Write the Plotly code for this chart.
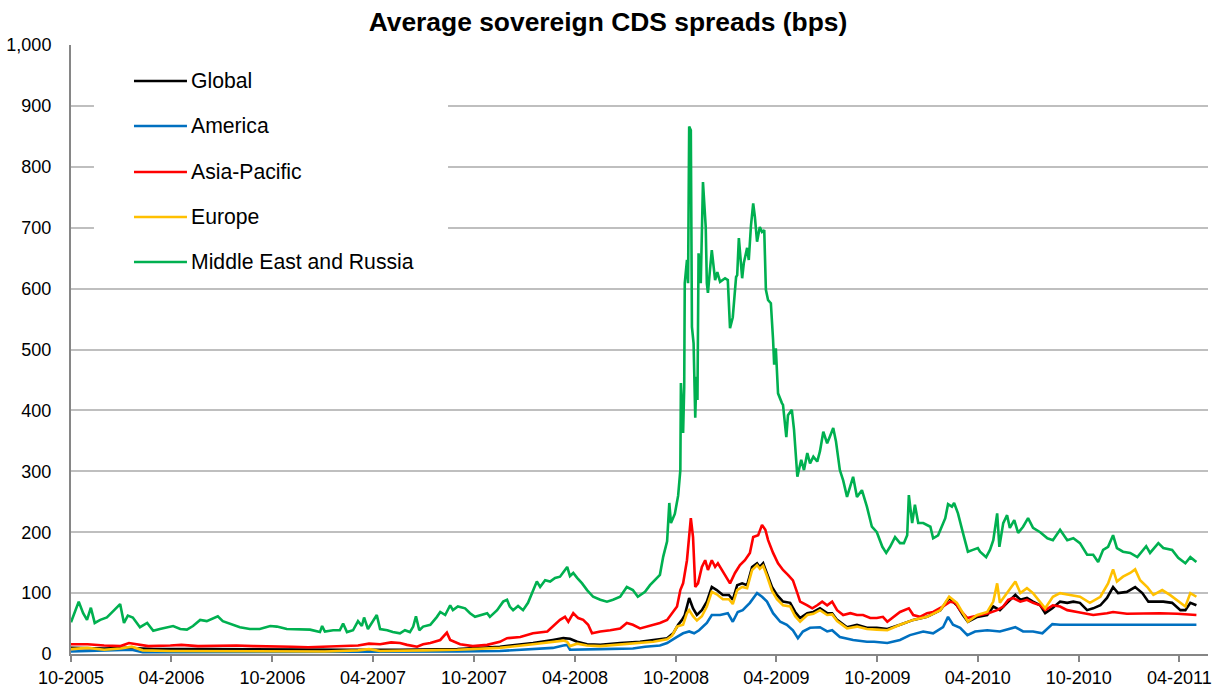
import pandas as pd
import plotly.graph_objects as go

# Observation dates are stored as days elapsed since 1 Oct 2005
START = pd.Timestamp("2005-10-01")

global_days = [0, 60, 100, 150, 250, 365, 500, 596, 700, 777, 837, 873, 892, 904, 917, 935, 959, 995, 1031,
               1055, 1080, 1091, 1100, 1107, 1112, 1120, 1127, 1134, 1143, 1152, 1161, 1170, 1181, 1192, 1199,
               1207, 1216, 1225, 1234, 1243, 1248, 1254, 1261, 1270, 1279, 1290, 1303, 1312, 1321, 1334, 1345,
               1357, 1370, 1379, 1388, 1406, 1424, 1442, 1460, 1479, 1502, 1526, 1551, 1575, 1591, 1605, 1616,
               1625, 1642, 1660, 1671, 1683, 1696, 1711, 1720, 1732, 1743, 1756, 1765, 1778, 1792, 1805, 1816,
               1828, 1841, 1852, 1865, 1877, 1888, 1897, 1913, 1928, 1941, 1952, 1968, 1979, 1995, 2010, 2019,
               2028, 2039]
global_vals = [10, 9, 10, 8, 8, 7, 7, 7, 8, 12, 18, 23, 26, 25, 20, 16, 15, 18, 20,
               23, 26, 34, 48, 56, 64, 92, 75, 64, 72, 86, 110, 105, 97, 97, 89,
               113, 116, 113, 143, 149, 143, 149, 133, 110, 97, 86, 84, 69, 59, 67, 69,
               75, 67, 67, 56, 44, 48, 43, 43, 41, 48, 56, 61, 72, 92, 80, 64,
               53, 61, 64, 78, 72, 84, 97, 89, 92, 86, 80, 67, 75, 86, 84, 86,
               84, 72, 75, 80, 92, 110, 100, 102, 110, 100, 86, 86, 86, 84, 72, 72,
               84, 80]

america_days = [0, 60, 110, 130, 200, 400, 520, 600, 700, 777, 837, 873, 892, 899, 904, 935, 959, 1018, 1040,
                1067, 1080, 1098, 1109, 1120, 1129, 1138, 1152, 1161, 1176, 1190, 1199, 1208, 1217, 1230, 1243,
                1252, 1261, 1272, 1285, 1297, 1308, 1317, 1326, 1339, 1357, 1370, 1379, 1393, 1417, 1442, 1455,
                1479, 1502, 1520, 1544, 1562, 1580, 1589, 1598, 1611, 1624, 1638, 1660, 1683, 1711, 1725, 1743,
                1760, 1778, 1792, 1823, 1900, 2039]
america_vals = [4, 5, 7, 3, 3, 3, 4, 4, 4, 5, 8, 10, 14, 15, 7, 7, 8, 9, 12,
                14, 18, 28, 34, 37, 34, 39, 51, 64, 64, 67, 53, 69, 72, 84, 100,
                94, 86, 67, 53, 48, 39, 26, 37, 43, 44, 37, 39, 28, 23, 20, 20,
                18, 23, 31, 37, 34, 44, 61, 48, 43, 31, 37, 39, 37, 44, 37, 37,
                34, 49, 48, 48, 48, 48]

asia_days = [0, 30, 60, 90, 105, 140, 180, 200, 230, 270, 300, 330, 365, 400, 430, 460, 490, 520, 540, 560,
             580, 596, 609, 627, 638, 651, 669, 681, 687, 705, 728, 754, 777, 790, 814, 837, 863, 886, 895,
             901, 910, 919, 928, 937, 944, 959, 977, 995, 1007, 1018, 1031, 1044, 1055, 1067, 1080, 1089,
             1098, 1104, 1109, 1116, 1120, 1123, 1127, 1131, 1136, 1143, 1149, 1154, 1161, 1167, 1172, 1181,
             1194, 1203, 1212, 1221, 1230, 1236, 1245, 1252, 1258, 1263, 1272, 1281, 1290, 1299, 1308, 1316,
             1321, 1334, 1343, 1352, 1361, 1370, 1379, 1388, 1399, 1412, 1424, 1435, 1448, 1460, 1471, 1479,
             1490, 1502, 1518, 1526, 1538, 1551, 1562, 1580, 1593, 1602, 1611, 1624, 1633, 1647, 1662, 1678,
             1689, 1698, 1707, 1720, 1732, 1743, 1756, 1765, 1779, 1792, 1805, 1823, 1852, 1877, 1888, 1913,
             1943, 1973, 2004, 2039]
asia_vals = [16, 16, 14, 13, 18, 13, 14, 15, 13, 14, 14, 13, 13, 12, 11, 12, 13, 14, 17, 16,
             19, 18, 15, 12, 16, 18, 23, 35, 23, 16, 13, 15, 20, 26, 28, 34, 37, 56, 61,
             53, 67, 59, 56, 48, 34, 37, 39, 42, 51, 48, 42, 45, 48, 51, 56, 67,
             78, 105, 116, 154, 199, 223, 192, 110, 116, 143, 154, 138, 154, 143, 149, 135,
             116, 133, 146, 154, 166, 192, 195, 212, 204, 187, 166, 149, 138, 130, 121, 100,
             86, 80, 75, 80, 86, 80, 86, 72, 64, 67, 64, 64, 59, 59, 61, 53,
             61, 69, 75, 64, 61, 67, 69, 78, 86, 84, 72, 59, 61, 64, 67, 72,
             78, 89, 92, 86, 89, 84, 80, 72, 80, 78, 72, 69, 64, 67, 69, 66,
             67, 67, 66, 64]

europe_days = [0, 30, 60, 90, 110, 130, 180, 300, 365, 460, 520, 540, 560, 600, 640, 700, 777, 837, 873, 892,
               899, 904, 917, 935, 959, 995, 1018, 1055, 1080, 1089, 1098, 1109, 1116, 1120, 1127, 1134, 1143,
               1152, 1161, 1170, 1181, 1192, 1199, 1207, 1216, 1225, 1234, 1243, 1248, 1254, 1261, 1270, 1279,
               1290, 1303, 1312, 1321, 1334, 1345, 1357, 1370, 1379, 1388, 1406, 1424, 1442, 1460, 1479, 1502,
               1526, 1551, 1575, 1591, 1605, 1616, 1625, 1642, 1660, 1671, 1678, 1683, 1696, 1711, 1720, 1732,
               1743, 1756, 1765, 1779, 1792, 1810, 1828, 1846, 1865, 1879, 1888, 1895, 1906, 1919, 1928, 1937,
               1950, 1961, 1977, 1991, 2006, 2019, 2028, 2039]
europe_vals = [8, 10, 7, 9, 12, 6, 5, 5, 4, 4, 6, 8, 5, 6, 6, 7, 10, 16, 20, 22,
               20, 13, 17, 14, 13, 16, 18, 20, 24, 30, 45, 48, 67, 72, 62, 55, 62,
               78, 102, 98, 90, 90, 82, 105, 110, 108, 138, 146, 140, 145, 128, 104, 90,
               80, 78, 62, 53, 64, 66, 72, 64, 65, 54, 42, 45, 41, 40, 39, 48,
               56, 61, 72, 94, 84, 67, 53, 64, 69, 86, 116, 84, 100, 119, 100, 108,
               100, 86, 75, 94, 100, 97, 94, 84, 94, 116, 139, 119, 127, 133, 139, 121,
               110, 97, 105, 97, 86, 78, 100, 94]

mideast_days = [0, 14, 22, 29, 36, 43, 53, 65, 76, 89, 96, 103, 112, 125, 138, 149, 161, 174, 185, 198,
                210, 221, 234, 246, 257, 266, 275, 294, 306, 324, 342, 361, 373, 391, 415, 433, 451, 455,
                460, 475, 487, 493, 500, 511, 520, 527, 531, 538, 554, 560, 573, 583, 596, 605, 614, 620,
                625, 631, 638, 651, 663, 669, 678, 687, 692, 701, 714, 723, 732, 745, 754, 759, 772, 783,
                790, 795, 801, 810, 819, 828, 837, 844, 850, 859, 868, 877, 886, 892, 899, 904, 910, 917,
                926, 935, 946, 959, 971, 982, 995, 1007, 1018, 1027, 1040, 1049, 1058, 1067, 1073, 1080,
                1084, 1087, 1094, 1100, 1104, 1105, 1109, 1111, 1112, 1116, 1118, 1120, 1123, 1125, 1128,
                1131, 1133, 1135, 1137, 1141, 1145, 1150, 1152, 1154, 1158, 1161, 1167, 1171, 1176, 1185,
                1190, 1194, 1199, 1205, 1207, 1210, 1216, 1219, 1225, 1228, 1232, 1236, 1239, 1243, 1248,
                1252, 1256, 1259, 1263, 1268, 1272, 1274, 1277, 1281, 1288, 1290, 1296, 1299, 1306, 1310,
                1316, 1323, 1328, 1334, 1339, 1345, 1352, 1357, 1363, 1370, 1375, 1381, 1386, 1393, 1399,
                1406, 1417, 1424, 1433, 1442, 1451, 1460, 1470, 1477, 1484, 1493, 1502, 1509, 1515, 1518,
                1524, 1529, 1535, 1544, 1557, 1562, 1571, 1578, 1584, 1589, 1596, 1600, 1607, 1616, 1625,
                1634, 1643, 1647, 1658, 1665, 1671, 1678, 1682, 1689, 1696, 1701, 1709, 1716, 1725, 1734,
                1743, 1756, 1769, 1779, 1792, 1805, 1816, 1828, 1841, 1852, 1861, 1870, 1879, 1888, 1895,
                1906, 1919, 1932, 1943, 1948, 1955, 1970, 1979, 1995, 2006, 2019, 2028, 2039]
mideast_vals = [52, 86, 67, 56, 76, 51, 56, 60, 70, 82, 51, 63, 60, 44, 51, 38, 41, 44, 46, 41,
                40, 46, 56, 54, 58, 62, 54, 48, 44, 41, 41, 46, 45, 41, 41, 40, 36, 46,
                37, 39, 39, 50, 36, 39, 54, 46, 60, 41, 64, 41, 39, 36, 34, 39, 36, 45,
                62, 39, 45, 48, 61, 69, 64, 80, 72, 78, 75, 67, 61, 64, 67, 61, 72, 86,
                89, 78, 72, 79, 72, 84, 105, 119, 110, 121, 119, 125, 127, 135, 143, 128, 133, 125,
                116, 105, 94, 89, 86, 89, 94, 110, 105, 94, 102, 113, 121, 130, 160, 185,
                248, 215, 230, 260, 302, 445, 363, 438, 609, 647, 609, 866, 860, 537, 510,
                388, 455, 417, 658, 609, 775, 701, 609, 593, 634, 663, 614, 627, 611, 617,
                614, 535, 553, 619, 622, 683, 617, 642, 667, 647, 704, 740, 718, 677, 701,
                693, 696, 598, 581, 576, 516, 475, 502, 428, 412, 409, 356, 392, 401, 368,
                291, 319, 302, 330, 313, 324, 316, 333, 365, 346, 357, 371, 349, 302, 285,
                258, 291, 258, 269, 242, 209, 200, 176, 166, 176, 192, 182, 182, 195, 261,
                215, 245, 215, 215, 209, 190, 195, 209, 223, 246, 242, 248, 231, 199, 168,
                171, 174, 168, 159, 171, 187, 231, 176, 215, 228, 207, 220, 199, 209, 223,
                207, 200, 190, 187, 204, 187, 190, 182, 163, 163, 151, 171, 176, 195, 174,
                168, 166, 159, 171, 177, 166, 182, 174, 171, 158, 149, 159, 151]

series = [
    ("Global", global_days, global_vals, "#000000"),
    ("America", america_days, america_vals, "#0070C0"),
    ("Asia-Pacific", asia_days, asia_vals, "#FF0000"),
    ("Europe", europe_days, europe_vals, "#FFC000"),
    ("Middle East and Russia", mideast_days, mideast_vals, "#00B050"),
]

tick_dates = ["2005-10-01", "2006-04-01", "2006-10-01", "2007-04-01", "2007-10-01", "2008-04-01",
              "2008-10-01", "2009-04-01", "2009-10-01", "2010-04-01", "2010-10-01", "2011-04-01"]
tick_labels = ["10-2005", "04-2006", "10-2006", "04-2007", "10-2007", "04-2008",
               "10-2008", "04-2009", "10-2009", "04-2010", "10-2010", "04-2011"]
y_ticks = [0, 100, 200, 300, 400, 500, 600, 700, 800, 900, 1000]

FONT = "Liberation Sans, Arial, sans-serif"

fig = go.Figure()
for name, days, vals, color in series:
    dates = START + pd.to_timedelta(days, unit="D")
    fig.add_trace(go.Scatter(x=dates, y=vals, mode="lines", name=name,
                             line=dict(color=color, width=2.6), showlegend=False))

# Legend panel drawn inside the plot area
leg_y = [0.941, 0.867, 0.7915, 0.7175, 0.6437]
fig.add_shape(type="rect", xref="paper", yref="paper", x0=0.0202, x1=0.3316, y0=0.617, y1=0.976,
              fillcolor="white", line=dict(width=0), layer="above")
for (name, _, _, color), yy in zip(series, leg_y):
    fig.add_shape(type="line", xref="paper", yref="paper", x0=0.0554, x1=0.1020, y0=yy, y1=yy,
                  line=dict(color=color, width=2.6), layer="above")
    fig.add_annotation(xref="paper", yref="paper", x=0.1037, y=yy, text=name, showarrow=False,
                       xanchor="left", yanchor="middle", font=dict(family=FONT, size=21.2, color="#000"))

fig.update_layout(
    width=1227, height=690,
    margin=dict(l=71, r=19, t=45, b=36),
    paper_bgcolor="white", plot_bgcolor="white",
    font=dict(family=FONT, color="#000"),
    title=dict(text="<b>Average sovereign CDS spreads (bps)</b>", x=0.4955, xref="container",
               xanchor="center", y=0.968, yref="container", yanchor="middle",
               font=dict(family=FONT, size=26.4, color="#000")),
)
fig.update_xaxes(
    type="date", range=["2005-10-01", "2011-05-23"], automargin=False,
    tickvals=tick_dates, ticktext=tick_labels, tickfont=dict(size=18, family=FONT, color="#000"),
    showgrid=False, showline=True, linecolor="#868686", linewidth=2,
    ticks="outside", ticklen=6, tickwidth=2, tickcolor="#868686", ticklabelstandoff=0, zeroline=False,
)
fig.update_yaxes(
    range=[0, 1000], tickvals=y_ticks, tickformat=",d", tickfont=dict(size=18, family=FONT, color="#000"),
    showgrid=True, gridcolor="#bfbfbf", gridwidth=2, showline=True, linecolor="#868686", linewidth=2,
    ticks="", ticklabelstandoff=14, zeroline=False, automargin=False,
)

fig.write_html("out.html")
